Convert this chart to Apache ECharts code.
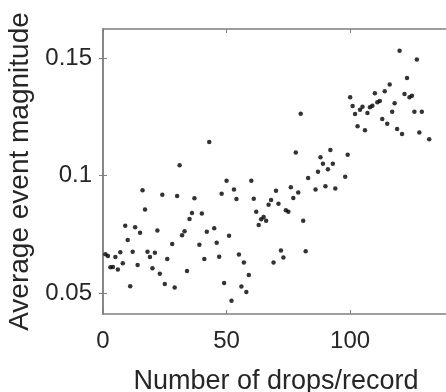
<!DOCTYPE html>
<html>
<head>
  <meta charset="utf-8">
  <title>Average event magnitude vs drops per record</title>
  <script src="https://cdn.jsdelivr.net/npm/echarts@6/dist/echarts.min.js"></script>
  <style>
    html, body { margin: 0; padding: 0; background: #fff; }
    #chart { width: 446px; height: 392px; }
  </style>
</head>
<body>
  <div id="chart"></div>
  <script>
    // drops per record (x) and average event magnitude (y)
    const drops = [
      1, 2, 3, 4, 5, 6, 7, 8, 9, 10,
      11, 12, 13, 14, 15, 16, 17, 18, 19, 20,
      21, 22, 23, 24, 25, 26, 28, 29, 30, 31,
      32, 33, 34, 35, 36, 37, 39, 40, 41, 42,
      43, 45, 46, 47, 48, 49, 50, 51, 52, 53,
      54, 55, 56, 57, 58, 59, 60, 61, 62, 63,
      64, 65, 66, 67, 68, 69, 70, 71, 72, 73,
      74, 75, 76, 77, 78, 79, 80, 81, 82, 83,
      86, 87, 88, 89, 90, 91, 92, 93, 94, 98,
      99, 100, 101, 102, 103, 104, 105, 106, 107, 108,
      109, 110, 111, 112, 113, 114, 115, 116, 117, 118,
      119, 120, 121, 122, 123, 124, 125, 126, 127, 128,
      129, 132
    ];
    const magnitude = [
      0.0667, 0.0659, 0.0611, 0.0613, 0.0655, 0.0602, 0.0675, 0.0628, 0.0788, 0.0727,
      0.0531, 0.0677, 0.0781, 0.0621, 0.0758, 0.0938, 0.0857, 0.0677, 0.0655, 0.0607,
      0.0673, 0.0768, 0.0584, 0.0919, 0.0540, 0.0646, 0.0710, 0.0526, 0.0914, 0.1045,
      0.0747, 0.0764, 0.0596, 0.0816, 0.0842, 0.0904, 0.0707, 0.0840, 0.0647, 0.0762,
      0.1143, 0.0777, 0.0715, 0.0656, 0.0924, 0.0545, 0.0979, 0.0745, 0.0469, 0.0942,
      0.0901, 0.0666, 0.0530, 0.0632, 0.0506, 0.0579, 0.0979, 0.0902, 0.0847, 0.0791,
      0.0815, 0.0825, 0.0809, 0.0877, 0.0897, 0.0632, 0.0936, 0.0881, 0.0683, 0.0653,
      0.0854, 0.0847, 0.0951, 0.0905, 0.1099, 0.0929, 0.1263, 0.0809, 0.0679, 0.0990,
      0.0942, 0.1017, 0.1079, 0.1051, 0.0955, 0.1028, 0.1109, 0.1051, 0.0946, 0.0996,
      0.1089, 0.1333, 0.1296, 0.1262, 0.1210, 0.1280, 0.1293, 0.1193, 0.1266, 0.1291,
      0.1297, 0.1350, 0.1312, 0.1317, 0.1241, 0.1359, 0.1221, 0.1387, 0.1272, 0.1308,
      0.1198, 0.1531, 0.1177, 0.1347, 0.1415, 0.1333, 0.1340, 0.1272, 0.1494, 0.1184,
      0.1272, 0.1155
    ];
    const xTicks = [0, 50, 100];
    const yTicks = [0.05, 0.1, 0.15];

    const points = drops.map((d, i) => [d, magnitude[i]]);

    const font = 'Liberation Sans, Arial, sans-serif';
    const axisGray = '#7f7f7f';
    const textColor = '#262626';

    const chart = echarts.init(document.getElementById('chart'));
    chart.setOption({
      animation: false,
      grid: { left: 103, top: 29, width: 346, height: 285, outerBoundsMode: 'none' },
      xAxis: [
        {
          type: 'value', min: 0, max: 140, position: 'bottom',
          name: 'Number of drops/record', nameLocation: 'middle', nameGap: 54,
          nameTextStyle: { fontFamily: font, fontSize: 27, color: textColor },
          axisLine: { show: true, lineStyle: { color: axisGray, width: 1.5 } },
          axisTick: { show: true, inside: true, length: 4, customValues: xTicks, lineStyle: { color: axisGray } },
          axisLabel: { customValues: xTicks, fontFamily: font, fontSize: 24, color: textColor, margin: 15 },
          splitLine: { show: false }
        },
        {
          type: 'value', min: 0, max: 140, position: 'top',
          axisLine: { show: true, lineStyle: { color: axisGray, width: 1.5 } },
          axisTick: { show: true, inside: true, length: 4, customValues: xTicks, lineStyle: { color: axisGray } },
          axisLabel: { show: false },
          splitLine: { show: false }
        }
      ],
      yAxis: [
        {
          type: 'value', min: 0.0413, max: 0.1623, position: 'left',
          name: 'Average event magnitude', nameLocation: 'middle', nameGap: 68,
          nameTextStyle: { fontFamily: font, fontSize: 28, color: textColor },
          axisLine: { show: true, lineStyle: { color: axisGray, width: 1.5 } },
          axisTick: { show: true, inside: true, length: 4, customValues: yTicks, lineStyle: { color: axisGray } },
          axisLabel: { customValues: yTicks, fontFamily: font, fontSize: 24, color: textColor, margin: 11 },
          splitLine: { show: false }
        },
        {
          type: 'value', min: 0.0413, max: 0.1623, position: 'right',
          axisLine: { show: true, lineStyle: { color: axisGray, width: 1.5 } },
          axisTick: { show: true, inside: true, length: 4, customValues: yTicks, lineStyle: { color: axisGray } },
          axisLabel: { show: false },
          splitLine: { show: false }
        }
      ],
      series: [
        {
          type: 'scatter',
          data: points,
          symbol: 'circle',
          symbolSize: 4.5,
          itemStyle: { color: '#000' }
        }
      ]
    });
  </script>
</body>
</html>
